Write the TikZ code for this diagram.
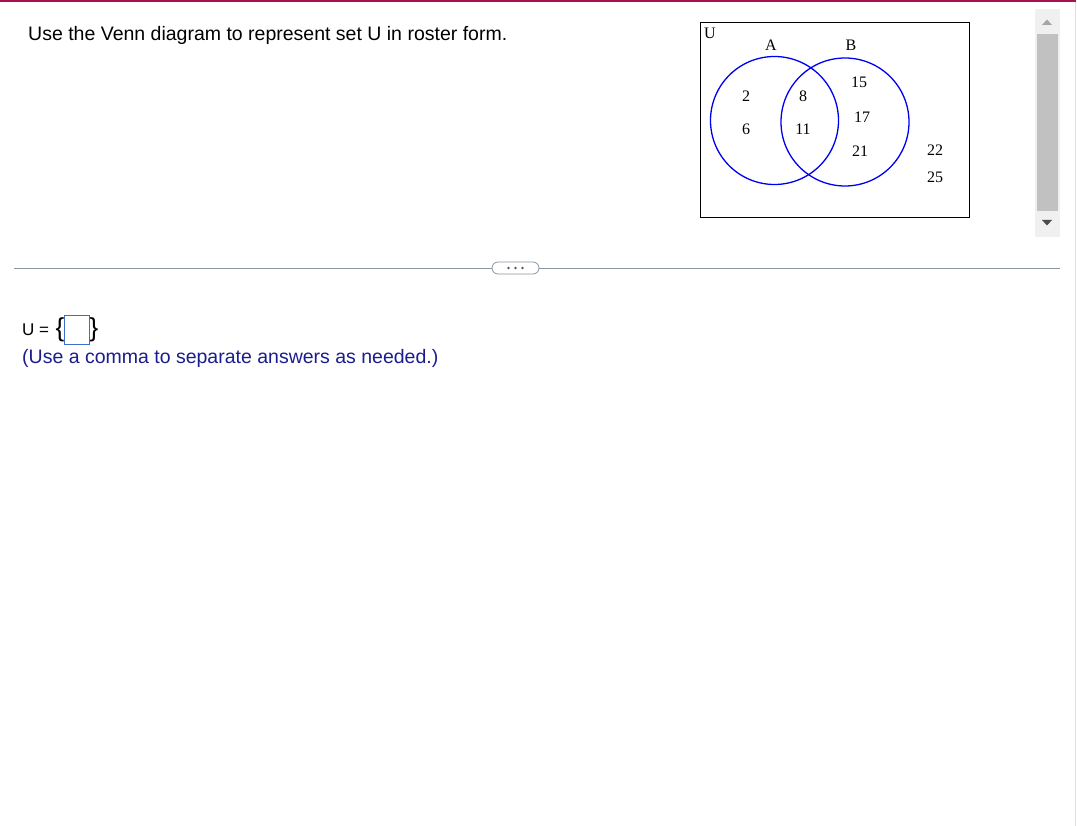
\documentclass[tikz,border=0pt]{standalone}
\usepackage{fontspec}
\setmainfont{Liberation Sans}
\newfontfamily\vennfont{Liberation Serif}
\definecolor{topbar}{HTML}{A8134F}
\definecolor{navy}{HTML}{1C1C8C}
\definecolor{rulegray}{HTML}{8A96A3}
\definecolor{vennblue}{HTML}{0000F0}
\definecolor{boxblue}{HTML}{3A6FD0}
\definecolor{sbtrack}{HTML}{F0F0F0}
\definecolor{sbthumb}{HTML}{C1C1C1}
\begin{document}
\begin{tikzpicture}[x=1pt,y=-1pt,
  qtext/.style={anchor=base west,inner sep=0pt,font=\fontsize{19.5}{23}\selectfont},
  vnum/.style={inner sep=0pt,font=\vennfont\fontsize{16}{18}\selectfont},
  vset/.style={circle,draw=vennblue,line width=1.3pt,minimum size=128pt,inner sep=0pt},
  brace/.style={inner sep=0pt,font=\fontsize{26}{28}\selectfont},
]
\useasboundingbox (0,0) rectangle (1077,826);
\fill[white] (0,0) rectangle (1077,826);
% top bar
\fill[topbar] (0,0) rectangle (1076,2.2);
% right border
\draw[gray!25,line width=1pt] (1075.5,2) -- (1075.5,826);
% question
\node[qtext] (q) at (28,41) {Use the Venn diagram to represent set U in roster form.};
% Venn
\node[draw=black,line width=1.3pt,minimum width=269pt,minimum height=195pt,inner sep=0pt,anchor=north west] (U) at (700,22) {};
\node[vnum,anchor=north west] (ul) at (704,28) {U};
\node[vset] (A) at (774.5,120.5) {};
\node[vset] (B) at (845,122) {};
\node[vnum] (la) at (771,45) {A};
\node[vnum] (lb) at (851,45) {B};
\node[vnum] (n2) at (746,96) {2};
\node[vnum] (n6) at (746,129) {6};
\node[vnum] (n8) at (803,96) {8};
\node[vnum] (n11) at (803,129) {11};
\node[vnum] (n15) at (859,82) {15};
\node[vnum] (n17) at (862,117) {17};
\node[vnum] (n21) at (860,151) {21};
\node[vnum] (n22) at (935,150) {22};
\node[vnum] (n25) at (935,177) {25};
% scrollbar
\fill[sbtrack] (1035,9) rectangle (1060,237);
\fill[sbthumb] (1037,34) rectangle (1058,211);
\fill[gray!70] (1042,25) -- (1052,25) -- (1047,19.5) -- cycle;
\fill[black!70] (1042,220) -- (1052,220) -- (1047,225.5) -- cycle;
% separator
\coordinate (sl) at (14,268);
\coordinate (sr) at (1060,268);
\node[draw=rulegray,fill=white,rounded corners=6pt,minimum width=47pt,minimum height=12pt,inner sep=0pt,line width=0.8pt] (dots) at (515.5,268) {};
\draw[rulegray,line width=0.8pt] (sl) -- (dots.west);
\draw[rulegray,line width=0.8pt] (dots.east) -- (sr);
\foreach \dx in {-7,0,7} \fill[black!65] ([xshift=\dx pt]dots.center) circle (1.3pt);
% answer
\node[anchor=base west,inner sep=0pt,font=\fontsize{17}{20}\selectfont] (ueq) at (22,336) {U =};
\node[draw=boxblue,line width=1pt,minimum width=25pt,minimum height=29pt,inner sep=0pt,anchor=north west] (ans) at (64,315) {};
\node[brace,anchor=east] (lb1) at ([xshift=0.5pt]ans.west) {\{};
\node[brace,anchor=west] (rb1) at ([xshift=-0.5pt]ans.east) {\}};
\node[qtext,text=navy] (hint) at (22,364) {(Use a comma to separate answers as needed.)};
\end{tikzpicture}
\end{document}
